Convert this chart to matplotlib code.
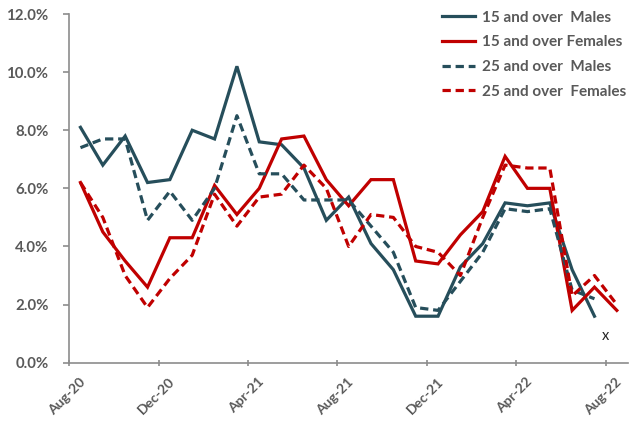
import numpy as np
import matplotlib
matplotlib.use("Agg")
import matplotlib.pyplot as plt
import matplotlib.transforms as mtransforms

nan = np.nan
months = ["Aug-20", "Sep-20", "Oct-20", "Nov-20", "Dec-20", "Jan-21", "Feb-21", "Mar-21",
          "Apr-21", "May-21", "Jun-21", "Jul-21", "Aug-21", "Sep-21", "Oct-21", "Nov-21",
          "Dec-21", "Jan-22", "Feb-22", "Mar-22", "Apr-22", "May-22", "Jun-22", "Jul-22", "Aug-22"]
males_15 = [8.1, 6.8, 7.8, 6.2, 6.3, 8.0, 7.7, 10.2, 7.6, 7.5, 6.7, 4.9, 5.7, 4.1, 3.2, 1.6,
            1.6, 3.3, 4.1, 5.5, 5.4, 5.5, 3.2, 1.6, nan]
females_15 = [6.2, 4.5, 3.5, 2.6, 4.3, 4.3, 6.1, 5.1, 6.0, 7.7, 7.8, 6.3, 5.4, 6.3, 6.3, 3.5,
              3.4, 4.4, 5.2, 7.1, 6.0, 6.0, 1.8, 2.6, 1.8]
males_25 = [7.4, 7.7, 7.7, 4.9, 5.9, 4.9, 6.0, 8.5, 6.5, 6.5, 5.6, 5.6, 5.6, 4.7, 3.8, 1.9,
            1.8, 2.8, 3.8, 5.3, 5.2, 5.3, 2.5, 2.2, nan]
females_25 = [6.2, 5.0, 3.0, 1.9, 2.9, 3.7, 5.8, 4.7, 5.7, 5.8, 6.8, 6.0, 4.0, 5.1, 5.0, 4.0,
              3.8, 3.0, 5.0, 6.8, 6.7, 6.7, 2.3, 3.0, 2.0]
labels = ["15 and over  Males", "15 and over Females", "25 and over  Males", "25 and over  Females"]
y_ticks = [0, 2, 4, 6, 8, 10, 12]

DARK = "#264E5B"
RED = "#C00000"
GRAY = "#595959"
AX = "#8C8C8C"

fig = plt.figure(figsize=(6.38, 4.21), dpi=100)
ax = fig.add_axes([69.3 / 638, 1 - 362.7 / 421, (628 - 69.3) / 638, (362.7 - 14) / 421])

x = np.arange(len(months)) + 0.5
lw = 2.3
dash = (2.6, 1.5)
ax.plot(x, males_15, color=DARK, lw=lw, label=labels[0], solid_joinstyle="miter")
ax.plot(x, females_15, color=RED, lw=lw, label=labels[1], solid_joinstyle="miter")
ax.plot(x, males_25, color=DARK, lw=lw, dashes=dash, label=labels[2])
ax.plot(x, females_25, color=RED, lw=lw, dashes=dash, label=labels[3])

ax.set_xlim(0, len(months))
ax.set_ylim(0, 12)

for s in ["top", "right"]:
    ax.spines[s].set_visible(False)
for s in ["left", "bottom"]:
    ax.spines[s].set_color(AX)
    ax.spines[s].set_linewidth(1.2)

font = "Lato"
ax.set_yticks(y_ticks)
ax.set_yticklabels([f"{v:.1f}%" for v in y_ticks], fontfamily=font, fontweight="bold",
                   fontsize=10.8, color=GRAY)
ax.tick_params(axis="y", length=4, width=1.2, color=AX, pad=11)

tick_pos = list(range(0, len(months), 4))
ax.set_xticks(tick_pos)
ax.set_xticklabels([months[i] for i in tick_pos], fontfamily=font, fontweight="bold",
                   fontsize=10, color=GRAY, rotation=45, ha="right", va="top",
                   rotation_mode="anchor")
ax.tick_params(axis="x", length=4, width=1.2, color=AX, direction="inout", pad=3)
offset = mtransforms.ScaledTranslation(10 / 100, -6 / 100, fig.dpi_scale_trans)
for lab in ax.get_xticklabels():
    lab.set_transform(lab.get_transform() + offset)

ax.text(24.0, 0.92, "x", ha="center", va="center", fontsize=10.5, fontfamily=font, color="#222222")

leg = ax.legend(loc="upper left", bbox_to_anchor=(441.7 / 638, 1 - 10.5 / 421),
                bbox_transform=fig.transFigure, frameon=False, borderpad=0, borderaxespad=0,
                handlelength=2.2, handletextpad=0.45, labelspacing=0.7,
                prop={"family": font, "weight": "bold", "size": 11})
for t in leg.get_texts():
    t.set_color(GRAY)

fig.savefig("out.png", dpi=100)
